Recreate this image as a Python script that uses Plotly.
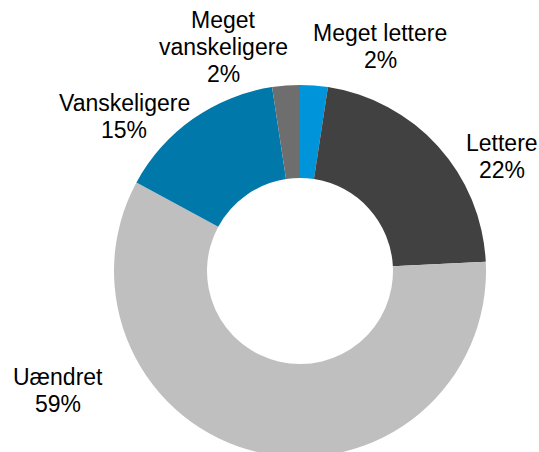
import plotly.graph_objects as go

categories = ["Meget lettere", "Lettere", "Uændret", "Vanskeligere", "Meget vanskeligere"]
values = [2.4, 21.8, 58.7, 14.7, 2.4]
colors = ["#0095DA", "#414141", "#BFBFBF", "#0078AA", "#6E6E6E"]
label_lines = [["Meget lettere"], ["Lettere"], ["Uændret"], ["Vanskeligere"], ["Meget", "vanskeligere"]]

# layout: label block centre x and first-line baseline y (page pixels), line step
label_pos = [(380, 41), (502, 151), (58, 385), (124, 111), (223, 28)]
LINE_STEP = 26.7
FONT_SIZE = 23

W, H = 539, 470          # figure taller than the window; the window shows the top 452 px
cx, cy, r = 300, 271, 186

fig = go.Figure(go.Pie(
    labels=categories,
    values=values,
    marker=dict(colors=colors, line=dict(width=0)),
    hole=0.5,
    sort=False,
    direction="clockwise",
    rotation=0,
    textinfo="none",
    hoverinfo="label+percent",
    showlegend=False,
    domain=dict(x=[(cx - r) / W, (cx + r) / W], y=[(H - cy - r) / H, (H - cy + r) / H]),
))

for lines, v, (px, py) in zip(label_lines, values, label_pos):
    for i, t in enumerate(lines + [f"{round(v)}%"]):
        base = py + i * LINE_STEP
        fig.add_annotation(
            x=px / W, y=1 - (base - 0.33 * FONT_SIZE) / H, xref="paper", yref="paper",
            text=t, showarrow=False, xanchor="center", yanchor="middle",
            font=dict(family="Liberation Sans, Arial, sans-serif", size=FONT_SIZE, color="#000000"),
        )

fig.update_layout(
    width=W, height=H,
    margin=dict(l=0, r=0, t=0, b=0),
    paper_bgcolor="white", plot_bgcolor="white",
)

fig.write_html(
    "out.html",
    config={"displayModeBar": False},
    post_script="document.body.style.margin='0';document.body.style.overflow='hidden';"
                "document.documentElement.style.overflow='hidden';",
)
